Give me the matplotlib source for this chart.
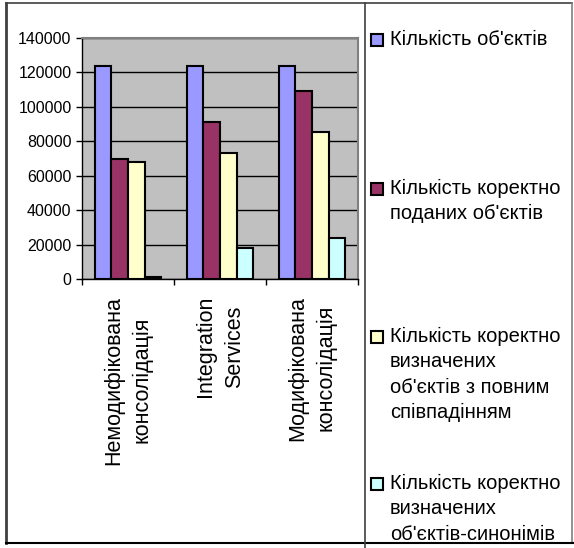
#!/usr/bin/env python3

# grouped bar chart: object counts per consolidation method
import matplotlib
matplotlib.use('Agg')
import matplotlib.pyplot as plt
import numpy as np
from matplotlib.lines import Line2D
from matplotlib.patches import Rectangle

categories = ['Немодифікована\nконсолідація', 'Integration\nServices', 'Модифікована\nконсолідація']

series_names = [
    "Кількість об'єктів",
    "Кількість коректно\nподаних об'єктів",
    "Кількість коректно\nвизначених\nоб'єктів з повним\nспівпадінням",
    "Кількість коректно\nвизначених\nоб'єктів-синонімів",
]

total_objects = [124000, 124000, 124000]
correct_given = [69500, 91000, 109000]
correct_full_match = [68000, 73000, 85500]
correct_synonyms = [1000, 18000, 23600]

yticks = [0, 20000, 40000, 60000, 80000, 100000, 120000, 140000]

colors = ['#9999FF', '#993366', '#FFFFCC', '#CCFFFF']

plt.rcParams['font.family'] = ['Liberation Sans', 'DejaVu Sans']

fig = plt.figure(figsize=(5.74, 5.48), dpi=100)
ax = fig.add_axes([82 / 574, 1 - 279 / 548, 276 / 574, 241 / 548])

values = [total_objects, correct_given, correct_full_match, correct_synonyms]
x = np.arange(len(categories))
width = 0.18
for i, (vals, col) in enumerate(zip(values, colors)):
    ax.bar(x + (i - 1.5) * width, vals, width, color=col,
           edgecolor='black', linewidth=1.5, zorder=3)

ax.set_facecolor('#C0C0C0')
ax.set_xlim(-0.5, 2.5)
ax.set_ylim(0, 140000)
ax.set_yticks(yticks)
ax.set_yticklabels([str(v) for v in yticks], fontsize=11.5)
ax.yaxis.grid(True, color='black', linewidth=1, zorder=1)
ax.set_axisbelow(True)
ax.tick_params(axis='y', direction='out', length=4.5, width=1, pad=3, colors='black')

# category labels sit between the minor tick marks
ax.set_xticks(x)
ax.set_xticklabels(categories, rotation=90, fontsize=15.5, ha='center',
                   va='top', multialignment='center', linespacing=1.45)
ax.set_xticks(np.arange(-0.5, 3.0, 1.0), minor=True)
ax.tick_params(axis='x', which='major', length=0, pad=12)
ax.tick_params(axis='x', which='minor', direction='out', length=4.5, width=1)

for side in ['top', 'right']:
    ax.spines[side].set_color('#808080')
    ax.spines[side].set_linewidth(1.5)
for side in ['left', 'bottom']:
    ax.spines[side].set_color('black')
    ax.spines[side].set_linewidth(1)

# legend on the right, drawn by hand so entries are evenly spread
W, H = 574, 548
entry_y = [39, 188, 336, 483]
for name, col, yc in zip(series_names, colors, entry_y):
    fig.patches.append(Rectangle(((371) / W, 1 - (yc + 6.5) / H), 12 / W, 12 / H,
                                 transform=fig.transFigure, facecolor=col,
                                 edgecolor='black', linewidth=1.5))
    fig.text(390 / W, 1 - (yc - 9) / H, name, fontsize=14.5, ha='left', va='top',
             linespacing=1.42)

# outer frame and divider
frame = [
    ([6, 6], [3, 543], '#404040', 2),
    ([6, 572], [3, 3], '#404040', 1.2),
    ([572, 572], [3, 543], '#808080', 1.2),
    ([6, 574], [543, 543], 'black', 1.5),
    ([365, 365], [3, 548], '#404040', 1.2),
]
for xs, ys, col, lw in frame:
    fig.lines.append(Line2D([v / W for v in xs], [1 - v / H for v in ys],
                            transform=fig.transFigure, color=col, linewidth=lw))

fig.savefig('out.png', dpi=100)
